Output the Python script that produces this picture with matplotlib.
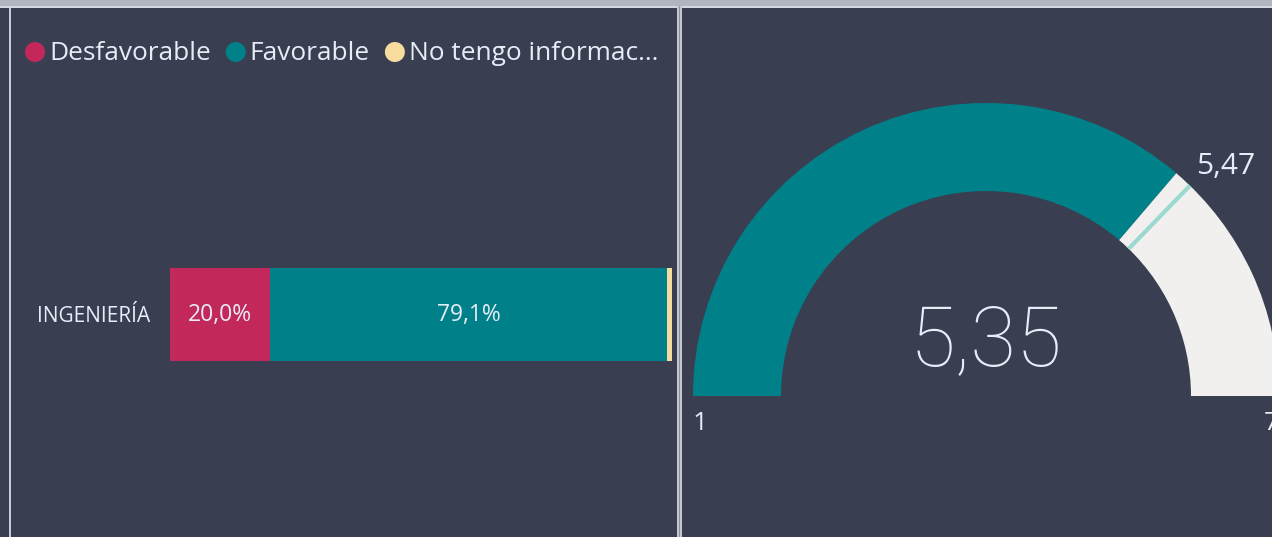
import matplotlib
matplotlib.use("Agg")
import matplotlib.pyplot as plt
from matplotlib.patches import Wedge, Rectangle, Circle
import numpy as np

# ---- data ----
categories = ["INGENIERÍA"]
series_names = ["Desfavorable", "Favorable", "No tengo informac..."]
series_values = [[20.0], [79.1], [0.9]]
bar_labels = ["20,0%", "79,1%", ""]
gauge_min = 1
gauge_max = 7
gauge_value = 5.35
gauge_target = 5.47

# ---- style ----
BG = "#393f51"
TXT = "#e6edf7"
COLORS = ["#c3285b", "#00818a", "#f6dc9d"]
GAUGE_REST = "#f2f0ee"
TARGET_C = "#9ad9d1"
FONT = ["Open Sans", "DejaVu Sans"]
plt.rcParams["font.family"] = FONT

W, H = 1272, 537
fig = plt.figure(figsize=(W / 100, H / 100), dpi=100)
fig.patch.set_facecolor(BG)

# background / frame in pixel coordinates
bgax = fig.add_axes([0, 0, 1, 1])
bgax.set_xlim(0, W)
bgax.set_ylim(H, 0)
bgax.axis("off")
bgax.add_patch(Rectangle((0, 0), W, 6, color="#b2b5bd", lw=0))
bgax.add_patch(Rectangle((0, 6), W, 2, color="#d4d8e0", lw=0))
bgax.add_patch(Rectangle((8.5, 8), 2, H, color="#c9ccd3", lw=0))
bgax.add_patch(Rectangle((676.5, 6), 2, H, color="#c4c7cd", lw=0))
bgax.add_patch(Rectangle((678.5, 6), 1, H, color="#8a8e97", lw=0))
bgax.add_patch(Rectangle((679.5, 6), 2, H, color="#c4c7cd", lw=0))

# legend
lx = 35
for name, col in zip(series_names, COLORS):
    bgax.add_patch(Circle((lx, 52), 10, color=col, lw=0))
    t = bgax.text(lx + 14, 53, name, color=TXT, fontsize=18.9, va="center", ha="left")
    fig.canvas.draw()
    bb = t.get_window_extent(renderer=fig.canvas.get_renderer())
    lx = lx + 14 + bb.width + 25

# ---- stacked bar ----
bx0, bx1, by0, by1 = 170, 672, 268, 361
bax = fig.add_axes([bx0 / W, 1 - by1 / H, (bx1 - bx0) / W, (by1 - by0) / H])
bax.set_facecolor("none")
left = np.zeros(len(categories))
for vals, col, lab in zip(series_values, COLORS, bar_labels):
    v = np.array(vals)
    bax.barh(categories, v, left=left, color=col, height=1.0, lw=0)
    if lab:
        for i in range(len(categories)):
            bax.text(left[i] + v[i] / 2, i, lab, color=TXT, fontsize=16.5,
                     ha="center", va="center")
    left = left + v
bax.set_xlim(0, left.max())
bax.set_ylim(-0.5, 0.5)
for s in bax.spines.values():
    s.set_visible(False)
bax.set_xticks([])
bax.tick_params(axis="y", length=0, pad=14, labelsize=15, labelcolor=TXT)

# ---- gauge ----
cx, cy, R = 986, 396, 293
r_in = 205 / 293
gx0, gx1, gy0, gy1 = 681, W, 8, H
gax = fig.add_axes([gx0 / W, 1 - gy1 / H, (gx1 - gx0) / W, (gy1 - gy0) / H])
gax.set_xlim((gx0 - cx) / R, (gx1 - cx) / R)
gax.set_ylim((cy - gy1) / R, (cy - gy0) / R)
gax.axis("off")
gax.set_facecolor("none")

def ang(v):
    return 180 - (v - gauge_min) / (gauge_max - gauge_min) * 180

a_val = ang(gauge_value)
gax.add_patch(Wedge((0, 0), 1, a_val, 180, width=1 - r_in, color=COLORS[1], lw=0))
gax.add_patch(Wedge((0, 0), 1, 0, a_val, width=1 - r_in, color=GAUGE_REST, lw=0))
a_t = np.deg2rad(ang(gauge_target))
gax.plot([r_in * np.cos(a_t), np.cos(a_t)], [r_in * np.sin(a_t), np.sin(a_t)],
         color=TARGET_C, lw=3, solid_capstyle="butt")

gax.text(0, (cy - 342) / R, f"{gauge_value:.2f}".replace(".", ","), color=TXT,
         fontsize=60, fontfamily=["Roboto", "DejaVu Sans"], fontweight="light",
         ha="center", va="center")
gax.text((1226 - cx) / R, (cy - 166) / R, f"{gauge_target:.2f}".replace(".", ","),
         color=TXT, fontsize=21.5, ha="center", va="center")
gax.text((700 - cx) / R, (cy - 424) / R, str(gauge_min), color=TXT, fontsize=19,
         ha="center", va="center")
gax.text((1271 - cx) / R, (cy - 424) / R, str(gauge_max), color=TXT, fontsize=19,
         ha="center", va="center")

fig.savefig("out.png", dpi=100, facecolor=BG)
